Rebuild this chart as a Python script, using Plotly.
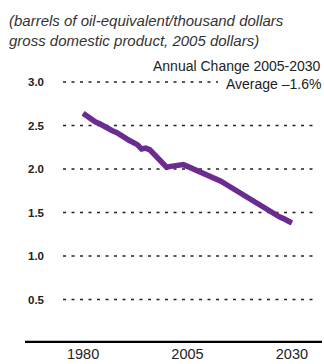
import plotly.graph_objects as go

years = list(range(1980, 2031))
intensity = [2.64, 2.60, 2.57, 2.54, 2.52, 2.49, 2.47, 2.44, 2.42, 2.38,
             2.36, 2.33, 2.31, 2.28, 2.23, 2.24, 2.22, 2.17, 2.11, 2.05,
             2.02, 2.03, 2.04, 2.05, 2.05, 2.03, 2.01, 1.99, 1.97, 1.95,
             1.93, 1.91, 1.88, 1.86, 1.83, 1.80, 1.77, 1.74, 1.71, 1.68,
             1.65, 1.62, 1.59, 1.56, 1.53, 1.51, 1.48, 1.45, 1.43, 1.40,
             1.38]
y_ticks = [0.5, 1.0, 1.5, 2.0, 2.5, 3.0]
y_tick_labels = ["0.5", "1.0", "1.5", "2.0", "2.5", "3.0"]
x_ticks = [1980, 2005, 2030]
x_tick_labels = ["1980", "2005", "2030"]

title_text = "<i>(barrels of oil-equivalent/thousand dollars<br>gross domestic product, 2005 dollars)</i>"
note_top = "Annual Change 2005-2030"
note_avg = "Average \u20131.6%"

FONT = "Liberation Sans, Arial, sans-serif"
TXT = "#222222"

fig = go.Figure()
fig.add_trace(go.Scatter(x=years, y=intensity, mode="lines",
                         line=dict(color="#6B2C91", width=5.5),
                         hoverinfo="skip", showlegend=False))

shapes = []
for v in y_ticks:
    x1 = 2012.3 if v == 3.0 else 2036.0
    shapes.append(dict(type="line", xref="x", yref="y", x0=1975.2, x1=x1, y0=v, y1=v,
                       line=dict(color="#222222", width=1.5, dash="3px,5.5px"), layer="below"))
shapes.append(dict(type="line", xref="paper", yref="y", x0=0, x1=1, y0=0, y1=0,
                   line=dict(color="#000000", width=4.5)))

fig.update_layout(
    width=324, height=364,
    margin=dict(l=25, r=2, t=50, b=21, autoexpand=False),
    paper_bgcolor="white", plot_bgcolor="white",
    font=dict(family=FONT, color=TXT, size=13),
    shapes=shapes,
    xaxis=dict(range=[1966.1, 2037.2], tickvals=x_ticks, ticktext=x_tick_labels,
               showgrid=False, zeroline=False, showline=False, automargin=False,
               ticks="", tickfont=dict(size=14.5, color=TXT)),
    yaxis=dict(range=[0, 293/87], tickvals=y_ticks, ticktext=y_tick_labels,
               showgrid=False, zeroline=False, showline=False, ticks="", automargin=False,
               ticklabelposition="inside",
               tickfont=dict(size=11.5, color=TXT, family=FONT, weight="bold")),
    annotations=[
        dict(text=title_text, xref="paper", yref="paper", x=(7-25)/297, y=(343-10)/293,
             xanchor="left", yanchor="top", align="left", showarrow=False,
             font=dict(size=15, color="#333333")),
        dict(text=note_top, xref="paper", yref="y", x=1, y=(343-65.5)/87,
             xanchor="right", yanchor="middle", showarrow=False, borderpad=0,
             font=dict(size=14, color=TXT)),
        dict(text=note_avg, xref="paper", yref="y", x=1, y=(343-83.5)/87,
             xanchor="right", yanchor="middle", showarrow=False, borderpad=0,
             font=dict(size=14, color=TXT)),
    ],
)

fig.write_html("out.html", config={"displayModeBar": False},
               post_script="document.body.style.margin='0';document.body.style.overflow='hidden';")
